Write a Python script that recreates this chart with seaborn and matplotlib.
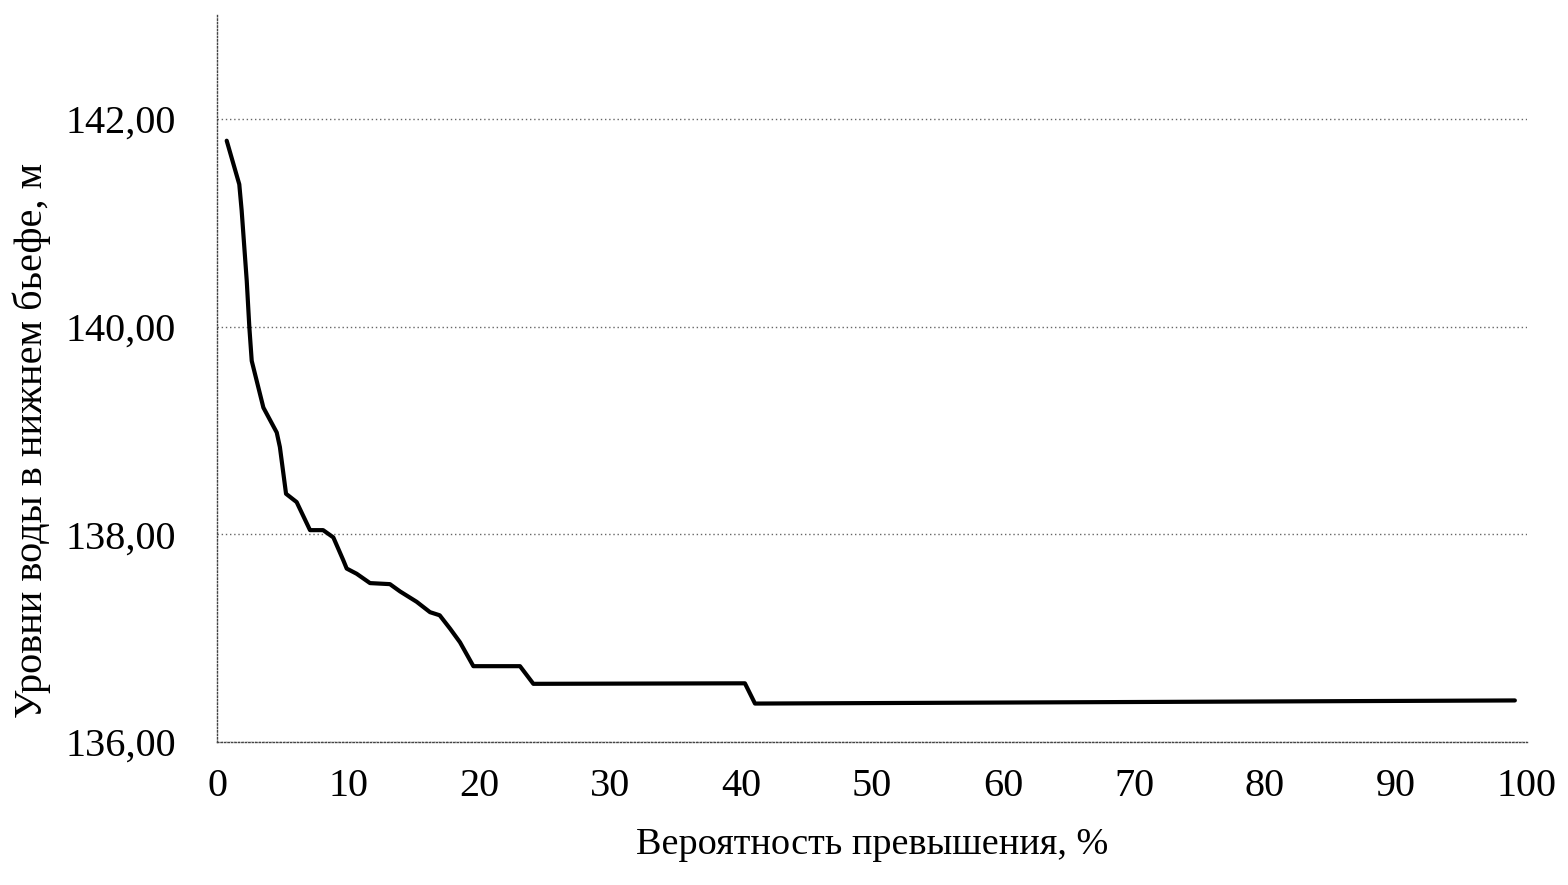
#!/usr/bin/env python3

import seaborn as sns
from matplotlib import pyplot as plt
from matplotlib.ticker import FuncFormatter, MultipleLocator

# Exceedance probability, % and tailwater levels, m
probability = [0.74, 1.7, 1.88, 2.27, 2.47, 2.65, 3.54, 4.56, 4.8, 5.27, 6.08,
               7.1, 8.1, 8.88, 9.64, 9.9, 10.66, 11.68, 13.2, 13.97, 15.24,
               16.26, 17.0, 17.8, 18.55, 19.57, 23.13, 24.15, 40.3, 41.07, 99.08]
level = [141.79, 141.37, 141.12, 140.44, 139.99, 139.67, 139.22, 138.98,
         138.84, 138.39, 138.31, 138.04, 138.04, 137.97, 137.75, 137.67,
         137.62, 137.53, 137.52, 137.45, 137.35, 137.25, 137.22, 137.09,
         136.96, 136.73, 136.73, 136.56, 136.565, 136.37, 136.40]

x_label = "Вероятность превышения, %"
y_label = "Уровни воды в нижнем бьефе, м"

sns.set_style("white")
plt.rcParams["font.family"] = ["Liberation Serif", "DejaVu Serif"]

fig, ax = plt.subplots(figsize=(15.68, 8.85), dpi=100)
fig.subplots_adjust(left=0.1384, right=0.9738, top=0.983, bottom=0.1616)

sns.lineplot(x=probability, y=level, sort=False, estimator=None,
             color="black", linewidth=3, ax=ax)

# Axes
ax.set_xlim(0, 100)
ax.set_ylim(136, 143)
ax.xaxis.set_major_locator(MultipleLocator(10))
ax.yaxis.set_major_locator(MultipleLocator(2))
ax.yaxis.set_major_formatter(
    FuncFormatter(lambda v, _: f"{v:.2f}".replace(".", ","))
)
ax.tick_params(axis="both", labelsize=29, colors="black", length=7,
               width=1, direction="inout")
ax.tick_params(axis="y", pad=26)
ax.tick_params(axis="x", direction="out", length=6, pad=13)

# Dotted grid and spines
ax.grid(True, axis="y", linestyle=(0, (1, 2)), color="#666666", linewidth=1)
ax.grid(False, axis="x")
for side in ["top", "right"]:
    ax.spines[side].set_visible(False)
for side in ["left", "bottom"]:
    ax.spines[side].set_linestyle((0, (1, 1.5)))
    ax.spines[side].set_color("#444444")
    ax.spines[side].set_linewidth(1)

ax.set_xlabel(x_label, fontsize=27.5, color="black", labelpad=16)
ax.set_ylabel(y_label, fontsize=29, color="black")
ax.yaxis.set_label_coords(-0.127, 0.415)

fig.savefig("out.png", dpi=100)
plt.close()
